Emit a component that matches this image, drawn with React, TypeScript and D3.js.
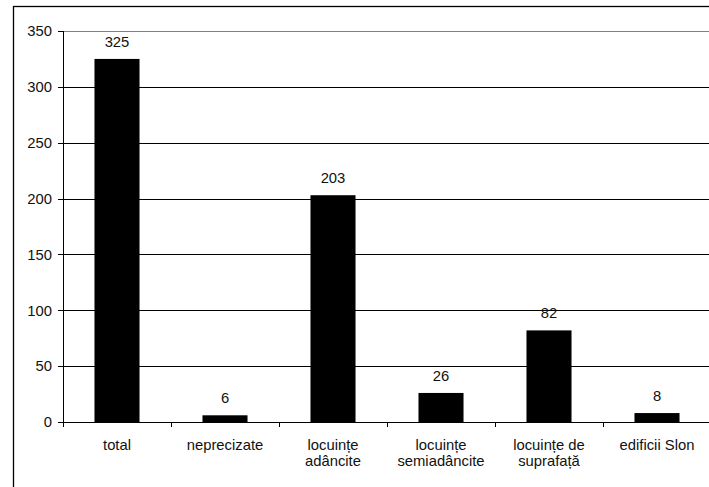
import React from "react";
import * as d3 from "d3";

const categories: string[][] = [
  ["total"],
  ["neprecizate"],
  ["locuințe", "adâncite"],
  ["locuințe", "semiadâncite"],
  ["locuințe de", "suprafață"],
  ["edificii Slon"],
];
const values: number[] = [325, 6, 203, 26, 82, 8];
const yTicks: number[] = [0, 50, 100, 150, 200, 250, 300, 350];

export default function App() {
  const W = 709;
  const H = 487;
  const left = 63;
  const right = 711;
  const top = 31;
  const bottom = 422;
  const keys = categories.map((c) => c.join(" "));
  const x = d3
    .scaleBand<string>()
    .domain(keys)
    .range([left, right])
    .paddingInner(0.583)
    .paddingOuter(0.2915);
  const y = d3.scaleLinear().domain([0, 350]).range([bottom, top]);
  const step = x.step();
  const font = "'Liberation Sans', Arial, sans-serif";
  const fs = 14.8;

  return (
    <div style={{ position: "fixed", left: 0, top: 0, width: W, height: H, background: "#fff" }}>
      <svg width={W} height={H} style={{ display: "block" }} fontFamily={font} fontSize={fs}>
        <rect x={0} y={0} width={W} height={H} fill="#fff" />
        <rect x={13.5} y={6.5} width={900} height={700} fill="none" stroke="#000" strokeWidth={1.3} />
        {yTicks.map((t) => (
          <g key={t}>
            {t > 0 && (
              <line
                x1={left}
                x2={right}
                y1={Math.round(y(t)) + 0.5}
                y2={Math.round(y(t)) + 0.5}
                stroke={t === 350 ? "#808080" : "#000"}
                strokeWidth={1}
              />
            )}
            <line x1={left - 5} x2={left} y1={Math.round(y(t)) + 0.5} y2={Math.round(y(t)) + 0.5} stroke="#000" />
            <text x={52} y={y(t)} dy="0.36em" textAnchor="end" fill="#111">
              {t}
            </text>
          </g>
        ))}
        {keys.map((k, i) => (
          <rect
            key={k}
            x={x(k)!}
            y={y(values[i])}
            width={x.bandwidth()}
            height={bottom - y(values[i])}
            fill="#000"
          />
        ))}
        {keys.map((k, i) => (
          <text
            key={"v" + k}
            x={x(k)! + x.bandwidth() / 2}
            y={y(values[i]) - 12}
            textAnchor="middle"
            fill="#111"
          >
            {values[i]}
          </text>
        ))}
        <line x1={left + 0.5} x2={left + 0.5} y1={top} y2={bottom + 5} stroke="#000" />
        <line x1={left} x2={right} y1={bottom + 0.5} y2={bottom + 0.5} stroke="#000" />
        {d3.range(categories.length + 1).map((i) => {
          const xx = Math.round(left + i * step) + 0.5;
          return <line key={"t" + i} x1={xx} x2={xx} y1={bottom} y2={bottom + 5} stroke="#000" />;
        })}
        {categories.map((lines, i) => (
          <text
            key={"c" + i}
            x={x(keys[i])! + x.bandwidth() / 2}
            y={449.5}
            textAnchor="middle"
            fill="#111"
          >
            {lines.map((l, j) => (
              <tspan key={j} x={x(keys[i])! + x.bandwidth() / 2} dy={j === 0 ? 0 : 16.5}>
                {l}
              </tspan>
            ))}
          </text>
        ))}
      </svg>
    </div>
  );
}
